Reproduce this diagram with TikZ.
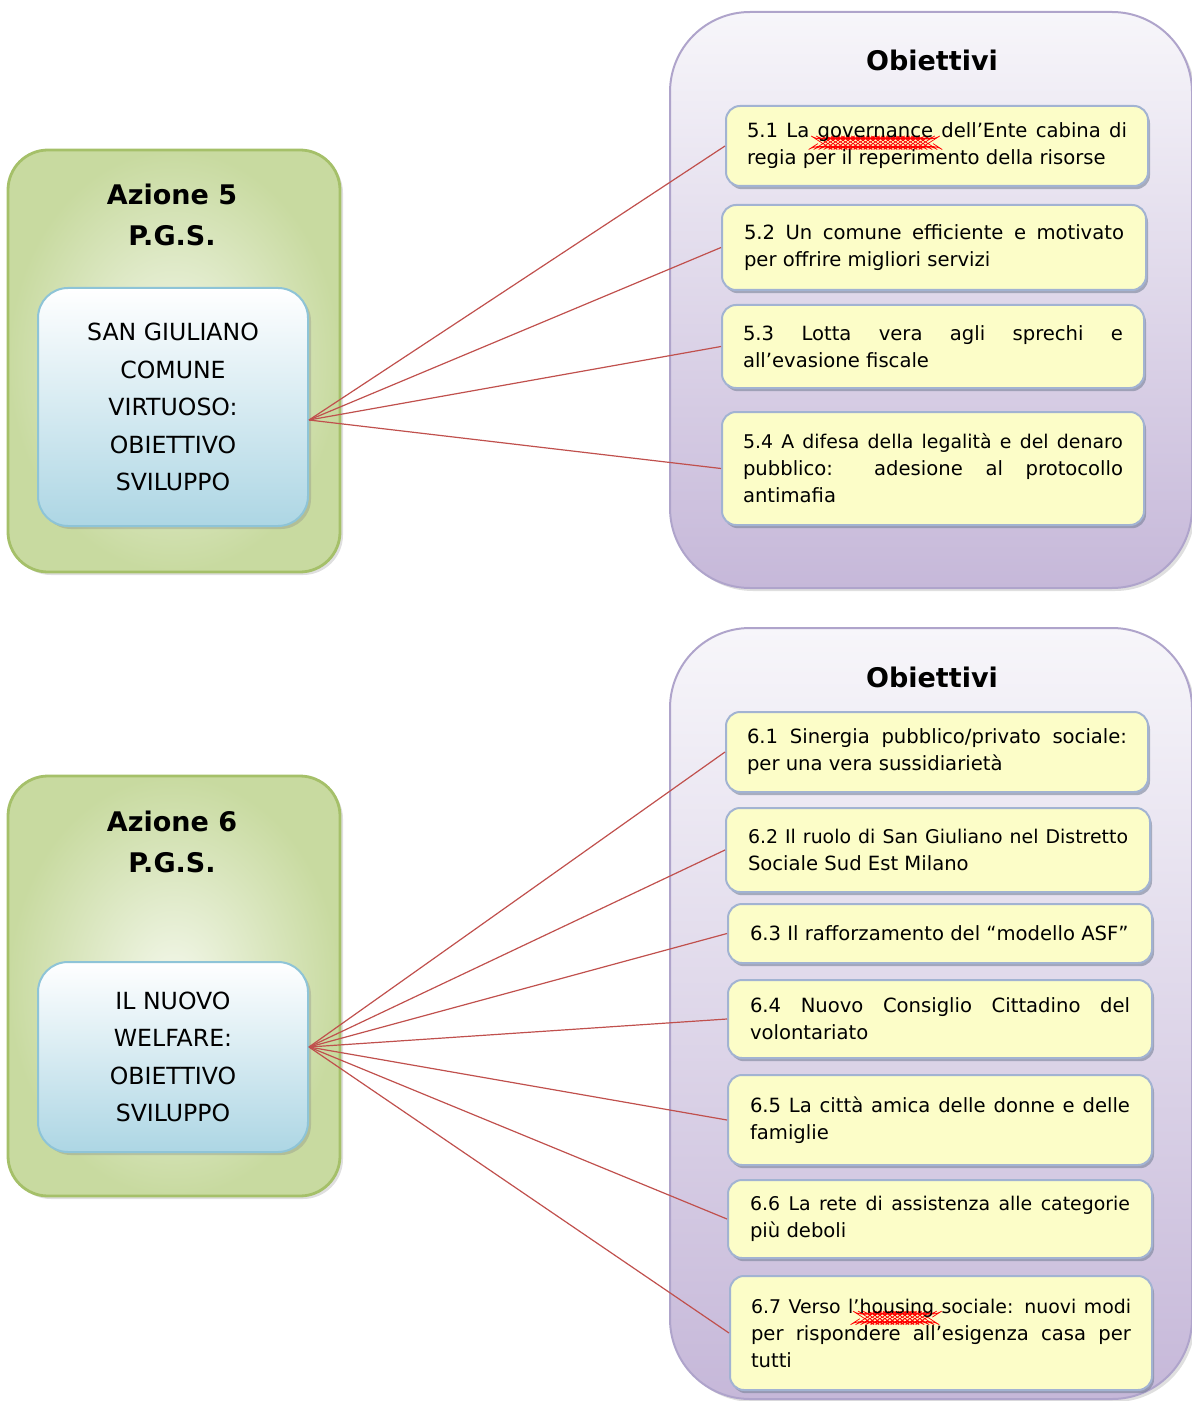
\documentclass[tikz,border=0pt]{standalone}
\usepackage{fontspec}
\setmainfont{DejaVu Sans}
\usetikzlibrary{shadows}
\newlength\wvlen
\newcommand{\redwave}[1]{\settowidth\wvlen{#1}\pgfmathtruncatemacro\nseg{\wvlen/1.25}%
  \rlap{\raisebox{-3pt}{\begin{pgfpicture}\pgfsetlinewidth{0.35pt}\pgfsetstrokecolor{red}%
  \pgfpathmoveto{\pgfpoint{0pt}{0pt}}%
  \foreach \i in {1,...,\nseg}{\pgfpathlineto{\pgfpoint{\i*1.25pt}{mod(\i,2)*0.8pt}}}%
  \pgfusepath{stroke}\end{pgfpicture}}}#1}
\newcommand{\tl}[1]{{\fontsize{9.45}{13.5}\selectfont #1}}
\definecolor{gin}{HTML}{F3F7EA}
\definecolor{gout}{HTML}{C8DAA0}
\definecolor{gborder}{HTML}{A5C069}
\definecolor{btop}{HTML}{FFFFFF}
\definecolor{bbot}{HTML}{ADD6E4}
\definecolor{bborder}{HTML}{8EC4D7}
\definecolor{ptop}{HTML}{F7F6FA}
\definecolor{pbot}{HTML}{C6B8D9}
\definecolor{pborder}{HTML}{AFA4CB}
\definecolor{yfill}{HTML}{FCFDC8}
\definecolor{yborder}{HTML}{A2B3D2}
\definecolor{linkred}{HTML}{C0504D}
\tikzset{
  greenbox/.style={draw=gborder, line width=1.4pt, rounded corners=20pt,
    inner color=gin, outer color=gout,
    drop shadow={shadow xshift=1.5pt, shadow yshift=-1.5pt, opacity=0.25, fill=gray}},
  bluebox/.style={draw=bborder, line width=1pt, rounded corners=15pt,
    top color=btop, bottom color=bbot, align=center,
    font={\fontsize{11.8}{18.75}\selectfont},
    drop shadow={shadow xshift=1.5pt, shadow yshift=-1.5pt, opacity=0.3, fill=gray}},
  purplebox/.style={draw=pborder, line width=1pt, rounded corners=40pt,
    top color=ptop, bottom color=pbot,
    drop shadow={shadow xshift=1.5pt, shadow yshift=-1.5pt, opacity=0.25, fill=gray}},
  ybox/.style={draw=yborder, line width=1pt, rounded corners=7pt, fill=yfill,
    text width=190pt, align=justify, inner sep=0pt,
    font={\fontsize{9.8}{13.5}\selectfont},
    drop shadow={shadow xshift=1pt, shadow yshift=-1.6pt, opacity=0.55, fill=yborder!70!black}},
  titletext/.style={align=center, font={\bfseries\fontsize{13.5}{20.5}\selectfont}},
  link/.style={draw=linkred, line width=0.6pt},
}
\begin{document}
\begin{tikzpicture}[x=0.5pt, y=-0.5pt]
\useasboundingbox (0,0) rectangle (1191,1401);
% ---------- Azione 5 ----------
\node[greenbox, minimum width=166pt, minimum height=211pt] (g5) at (174,361) {};
\node[titletext] (t5) at (172,215) {Azione 5\\P.G.S.};
\node[bluebox, minimum width=135pt, minimum height=119pt] (b5) at (173,407)
  {SAN GIULIANO\\COMUNE\\VIRTUOSO:\\OBIETTIVO\\SVILUPPO};
\node[purplebox, minimum width=261pt, minimum height=288pt] (p5) at (931,300) {};
\node[titletext] (ob5) at (932,60) {Obiettivi};
\node[ybox, minimum width=211pt, minimum height=40pt] (o51) at (937,146)
  {5.1 La \redwave{governance} dell’Ente cabina di\linebreak regia per il reperimento della risorse};
\node[ybox, minimum width=212pt, minimum height=42.5pt] (o52) at (934,247.5)
  {5.2 Un comune efficiente e motivato\linebreak per offrire migliori servizi};
\node[ybox, minimum width=211pt, minimum height=41.5pt] (o53) at (933,346.5)
  {5.3 Lotta vera agli sprechi e\linebreak all’evasione fiscale};
\node[ybox, minimum width=211pt, minimum height=56.5pt] (o54) at (933,468.5)
  {\tl{5.4 A difesa della legalità e del denaro}\linebreak pubblico: adesione al protocollo\linebreak antimafia};
\foreach \o in {o51,o52,o53,o54}
  \draw[link] ([yshift=-6.5pt]b5.east) -- (\o.west);
% ---------- Azione 6 ----------
\node[greenbox, minimum width=166pt, minimum height=210pt] (g6) at (174,986) {};
\node[titletext] (t6) at (172,841.5) {Azione 6\\P.G.S.};
\node[bluebox, minimum width=135pt, minimum height=95pt] (b6) at (173,1057)
  {IL NUOVO\\WELFARE:\\OBIETTIVO\\SVILUPPO};
\node[purplebox, minimum width=261pt, minimum height=385.5pt] (p6) at (931,1013.5) {};
\node[titletext] (ob6) at (932,677) {Obiettivi};
\node[ybox, minimum width=211pt, minimum height=40pt] (o61) at (937,752)
  {6.1 Sinergia pubblico/privato sociale:\linebreak per una vera sussidiarietà};
\node[ybox, minimum width=212pt, minimum height=42pt] (o62) at (938,850)
  {\tl{6.2 Il ruolo di San Giuliano nel Distretto}\linebreak Sociale Sud Est Milano};
\node[ybox, minimum width=212pt, minimum height=29.5pt] (o63) at (940,933.5)
  {6.3 Il rafforzamento del “modello ASF”};
\node[ybox, minimum width=212pt, minimum height=39pt] (o64) at (940,1019)
  {6.4 Nuovo Consiglio Cittadino del\linebreak volontariato};
\node[ybox, minimum width=212pt, minimum height=45pt] (o65) at (940,1120)
  {6.5 La città amica delle donne e delle\linebreak famiglie};
\node[ybox, minimum width=212pt, minimum height=39pt] (o66) at (940,1219)
  {\tl{6.6 La rete di assistenza alle categorie}\linebreak più deboli};
\node[ybox, minimum width=211pt, minimum height=57pt] (o67) at (941,1333)
  {\tl{6.7 Verso l’\redwave{housing} sociale: nuovi modi}\linebreak per rispondere all’esigenza casa per\linebreak tutti};
\foreach \o in {o61,o62,o63,o64,o65,o66,o67}
  \draw[link] ([yshift=5pt]b6.east) -- (\o.west);
\end{tikzpicture}
\end{document}
